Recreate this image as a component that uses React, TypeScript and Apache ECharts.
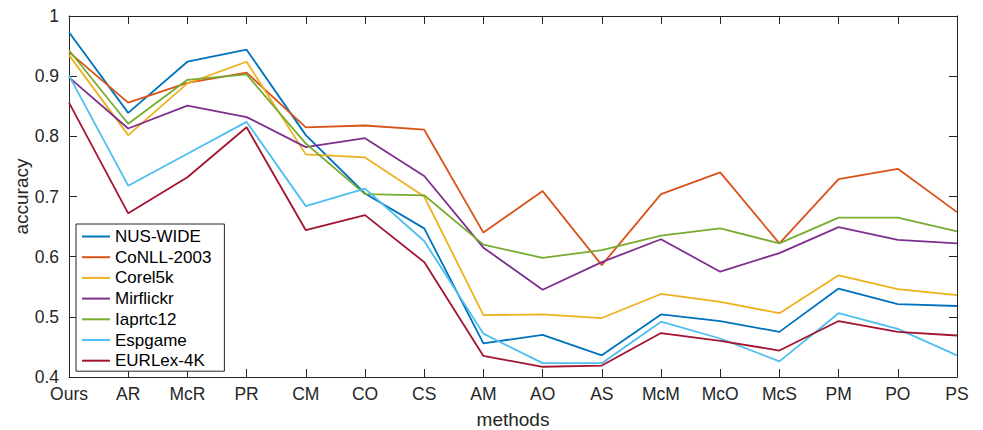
import React, { useEffect, useRef } from "react";
import * as echarts from "echarts";

const categories = ["Ours", "AR", "McR", "PR", "CM", "CO", "CS", "AM", "AO", "AS", "McM", "McO", "McS", "PM", "PO", "PS"];

const nusWide = [0.973, 0.839, 0.924, 0.944, 0.802, 0.705, 0.647, 0.456, 0.470, 0.436, 0.504, 0.493, 0.475, 0.547, 0.521, 0.518];
const conll2003 = [0.940, 0.856, 0.889, 0.906, 0.815, 0.818, 0.811, 0.640, 0.709, 0.586, 0.704, 0.740, 0.622, 0.729, 0.746, 0.674];
const corel5k = [0.935, 0.802, 0.888, 0.924, 0.770, 0.765, 0.700, 0.503, 0.504, 0.498, 0.538, 0.525, 0.506, 0.569, 0.546, 0.536];
const mirflickr = [0.898, 0.813, 0.851, 0.832, 0.782, 0.797, 0.734, 0.615, 0.545, 0.591, 0.629, 0.575, 0.606, 0.649, 0.628, 0.622];
const iaprtc12 = [0.943, 0.821, 0.894, 0.903, 0.788, 0.704, 0.702, 0.620, 0.598, 0.611, 0.635, 0.647, 0.622, 0.665, 0.665, 0.642];
const espgame = [0.901, 0.718, 0.771, 0.824, 0.684, 0.713, 0.626, 0.472, 0.423, 0.423, 0.492, 0.464, 0.426, 0.506, 0.480, 0.436];
const eurlex4k = [0.856, 0.672, 0.732, 0.815, 0.644, 0.669, 0.591, 0.435, 0.417, 0.419, 0.473, 0.460, 0.444, 0.493, 0.475, 0.469];

const seriesNames = ["NUS-WIDE", "CoNLL-2003", "Corel5k", "Mirflickr", "Iaprtc12", "Espgame", "EURLex-4K"];
const seriesData = [nusWide, conll2003, corel5k, mirflickr, iaprtc12, espgame, eurlex4k];
const colors = ["#0072BD", "#D95319", "#EDB120", "#7E2F8E", "#77AC30", "#4DBEEE", "#A2142F"];

const FONT = "'Liberation Sans', Arial, Helvetica, sans-serif";
const AXIS_COLOR = "#262626";

export default function App() {
  const ref = useRef<HTMLDivElement>(null);

  useEffect(() => {
    if (!ref.current) return;
    const chart = echarts.init(ref.current, null, { renderer: "svg" });
    const yFmt = (v: number) => (Math.abs(v - 1) < 1e-9 ? "1" : v.toFixed(1));
    chart.setOption({
      animation: false,
      backgroundColor: "#ffffff",
      textStyle: { fontFamily: FONT },
      grid: { left: 69, right: 26, top: 16, bottom: 53, containLabel: false, outerBoundsMode: "none" },
      legend: {
        orient: "vertical",
        left: 76,
        top: 224,
        data: seriesNames.map((n) => ({ name: n, icon: "rect" })),
        backgroundColor: "#ffffff",
        borderColor: "#262626",
        borderWidth: 1,
        borderRadius: 0,
        padding: [4, 13, 2, 6],
        itemWidth: 28,
        itemHeight: 2,
        itemGap: 3.7,
        textStyle: { fontSize: 17, color: "#000", fontFamily: FONT },
      },
      xAxis: [
        {
          type: "category",
          data: categories,
          boundaryGap: false,
          name: "methods",
          nameLocation: "middle",
          nameGap: 33,
          nameTextStyle: { fontSize: 19, color: "#262626", fontFamily: FONT },
          axisLine: { lineStyle: { color: AXIS_COLOR, width: 1 } },
          axisTick: { inside: true, length: 8, lineStyle: { color: AXIS_COLOR } },
          axisLabel: { fontSize: 17.5, color: "#262626", margin: 8, fontFamily: FONT },
          splitLine: { show: false },
        },
        {
          type: "category",
          data: categories,
          boundaryGap: false,
          position: "top",
          axisLine: { lineStyle: { color: AXIS_COLOR, width: 1 } },
          axisTick: { inside: true, length: 8, lineStyle: { color: AXIS_COLOR } },
          axisLabel: { show: false },
          splitLine: { show: false },
        },
      ],
      yAxis: [
        {
          type: "value",
          min: 0.4,
          max: 1,
          interval: 0.1,
          name: "accuracy",
          nameLocation: "middle",
          nameGap: 38,
          nameMoveOverlap: false,
          nameTextStyle: { fontSize: 19, color: "#262626", fontFamily: FONT },
          axisLine: { show: true, lineStyle: { color: AXIS_COLOR, width: 1 } },
          axisTick: { show: true, inside: true, length: 8, lineStyle: { color: AXIS_COLOR } },
          axisLabel: { fontSize: 17.5, color: "#262626", margin: 10, formatter: yFmt, fontFamily: FONT },
          splitLine: { show: false },
        },
        {
          type: "value",
          min: 0.4,
          max: 1,
          interval: 0.1,
          position: "right",
          axisLine: { show: true, lineStyle: { color: AXIS_COLOR, width: 1 } },
          axisTick: { show: true, inside: true, length: 8, lineStyle: { color: AXIS_COLOR } },
          axisLabel: { show: false },
          splitLine: { show: false },
        },
      ],
      series: seriesNames.map((name, i) => ({
        name,
        type: "line",
        xAxisIndex: 0,
        yAxisIndex: 0,
        data: seriesData[i],
        symbol: "none",
        color: colors[i],
        itemStyle: { color: colors[i] },
        lineStyle: { color: colors[i], width: 1.8 },
        z: 2 + i,
      })),
    });
    return () => chart.dispose();
  }, []);

  return <div ref={ref} style={{ position: "absolute", left: 0, top: 0, width: 983, height: 430 }} />;
}
